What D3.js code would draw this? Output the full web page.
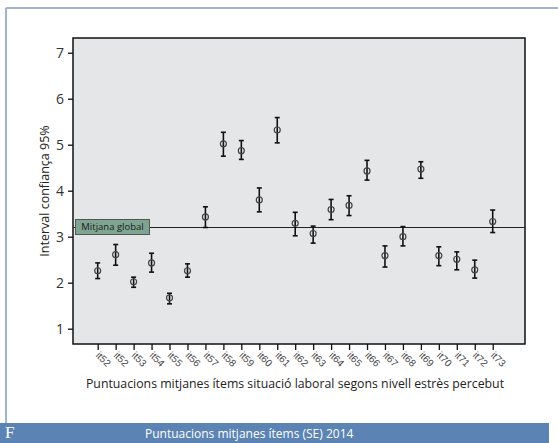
<!DOCTYPE html>
<html>
<head>
<meta charset="utf-8">
<script src="https://cdn.jsdelivr.net/npm/d3@7"></script>
<style>
  body { margin: 0; background: #fff; }
  svg { display: block; font-family: "Open Sans", "DejaVu Sans", sans-serif; }
</style>
</head>
<body>
<svg id="chart" width="558" height="443"></svg>
<script>
// items (categories) as labelled on the chart
const items = ["it52", "it52", "it53", "it54", "it55", "it56", "it57", "it58", "it59", "it60", "it61",
  "it62", "it63", "it64", "it65", "it66", "it67", "it68", "it69", "it70", "it71", "it72", "it73"];
// means and 95% confidence interval bounds
const means = [2.26, 2.61, 2.02, 2.43, 1.67, 2.26, 3.43, 5.02, 4.87, 3.80, 5.32,
  3.29, 3.07, 3.59, 3.68, 4.43, 2.59, 3.00, 4.47, 2.59, 2.51, 2.28, 3.33];
const lower = [2.09, 2.38, 1.90, 2.23, 1.54, 2.12, 3.20, 4.75, 4.68, 3.54, 5.04,
  3.02, 2.86, 3.37, 3.46, 4.23, 2.34, 2.80, 4.27, 2.37, 2.28, 2.10, 3.09];
const upper = [2.43, 2.83, 2.12, 2.64, 1.77, 2.41, 3.65, 5.27, 5.09, 4.06, 5.59,
  3.53, 3.23, 3.81, 3.89, 4.66, 2.80, 3.22, 4.63, 2.78, 2.67, 2.49, 3.58];
const yTicks = [1, 2, 3, 4, 5, 6, 7];
const globalMean = 3.2;

const svg = d3.select("#chart");

// outer frame (top + left light blue lines)
svg.append("line")
    .attr("x1", 6).attr("y1", 8).attr("x2", 558).attr("y2", 8)
    .attr("stroke", "#9cb5d4").attr("stroke-width", 2);
svg.append("line")
    .attr("x1", 6).attr("y1", 8).attr("x2", 6).attr("y2", 423)
    .attr("stroke", "#9cb5d4").attr("stroke-width", 2);

// bottom caption band
svg.append("rect")
    .attr("x", 0).attr("y", 423).attr("width", 549).attr("height", 20)
    .attr("fill", "#5b84b4");
svg.append("text")
    .attr("x", 5).attr("y", 438)
    .attr("fill", "#fff")
    .attr("font-family", "Liberation Serif, serif")
    .attr("font-size", 17)
    .text("F");
svg.append("text")
    .attr("x", 145).attr("y", 438)
    .attr("fill", "#fff")
    .attr("font-size", 12)
    .text("Puntuacions mitjanes ítems (SE) 2014");

// plot area
const plot = { left: 73, top: 38, right: 525, bottom: 344 };

const x = d3.scalePoint()
    .domain(d3.range(items.length))
    .range([97.7, 492.7]);

const y = d3.scaleLinear()
    .domain([0.667, 7.32])
    .range([plot.bottom, plot.top]);

svg.append("rect")
    .attr("x", plot.left).attr("y", plot.top)
    .attr("width", plot.right - plot.left)
    .attr("height", plot.bottom - plot.top)
    .attr("fill", "#e5e6e8")
    .attr("stroke", "#111")
    .attr("stroke-width", 1.5);

// y axis
const yAxis = svg.append("g")
    .attr("transform", "translate(" + plot.left + ",0)")
    .call(d3.axisLeft(y).tickValues(yTicks).tickSize(5).tickPadding(4).tickFormat(d3.format("d")));
yAxis.select(".domain").remove();
yAxis.selectAll("line").attr("stroke", "#111").attr("stroke-width", 1.3);
yAxis.selectAll("text")
    .attr("font-size", 14)
    .attr("font-family", "Open Sans, sans-serif")
    .attr("fill", "#333");

// x axis
const xAxis = svg.append("g")
    .attr("transform", "translate(0," + plot.bottom + ")")
    .call(d3.axisBottom(x).tickSize(6).tickFormat(function (d) { return items[d]; }));
xAxis.select(".domain").remove();
xAxis.selectAll("line").attr("stroke", "#111").attr("stroke-width", 1.3);
xAxis.selectAll("text")
    .attr("font-size", 10)
    .attr("fill", "#444")
    .attr("text-anchor", "start")
    .attr("dy", null)
    .attr("y", 0)
    .attr("transform", "translate(-3,12) rotate(45)");

// axis titles
svg.append("text")
    .attr("x", 295).attr("y", 388)
    .attr("text-anchor", "middle")
    .attr("font-size", 12.3)
    .attr("fill", "#222")
    .text("Puntuacions mitjanes ítems situació laboral segons nivell estrès percebut");

svg.append("text")
    .attr("transform", "translate(49," + ((plot.top + plot.bottom) / 2) + ") rotate(-90)")
    .attr("text-anchor", "middle")
    .attr("font-size", 12.5)
    .attr("fill", "#222")
    .text("Interval confiança 95%");

// global mean reference line
svg.append("line")
    .attr("x1", plot.left).attr("x2", plot.right)
    .attr("y1", y(globalMean)).attr("y2", y(globalMean))
    .attr("stroke", "#222").attr("stroke-width", 1.2);

const lbl = svg.append("g")
    .attr("transform", "translate(75.5," + (y(globalMean) - 8) + ")");
lbl.append("rect")
    .attr("width", 74).attr("height", 15)
    .attr("fill", "#7fa592")
    .attr("stroke", "#555").attr("stroke-width", 1);
lbl.append("text")
    .attr("x", 37).attr("y", 11)
    .attr("text-anchor", "middle")
    .attr("font-size", 9.5)
    .attr("fill", "#1a1a1a")
    .text("Mitjana global");

// error bars
const bars = svg.append("g").selectAll("g")
    .data(d3.range(items.length))
    .enter()
    .append("g");

bars.append("line")
    .attr("x1", function (d) { return x(d); })
    .attr("x2", function (d) { return x(d); })
    .attr("y1", function (d) { return y(lower[d]); })
    .attr("y2", function (d) { return y(upper[d]); })
    .attr("stroke", "#111").attr("stroke-width", 1.6);

bars.append("line")
    .attr("x1", function (d) { return x(d) - 2.5; })
    .attr("x2", function (d) { return x(d) + 2.5; })
    .attr("y1", function (d) { return y(upper[d]); })
    .attr("y2", function (d) { return y(upper[d]); })
    .attr("stroke", "#111").attr("stroke-width", 1.6);

bars.append("line")
    .attr("x1", function (d) { return x(d) - 2.5; })
    .attr("x2", function (d) { return x(d) + 2.5; })
    .attr("y1", function (d) { return y(lower[d]); })
    .attr("y2", function (d) { return y(lower[d]); })
    .attr("stroke", "#111").attr("stroke-width", 1.6);

bars.append("circle")
    .attr("cx", function (d) { return x(d); })
    .attr("cy", function (d) { return y(means[d]); })
    .attr("r", 3)
    .attr("fill", "none")
    .attr("stroke", "#444").attr("stroke-width", 1.2);
</script>
</body>
</html>
